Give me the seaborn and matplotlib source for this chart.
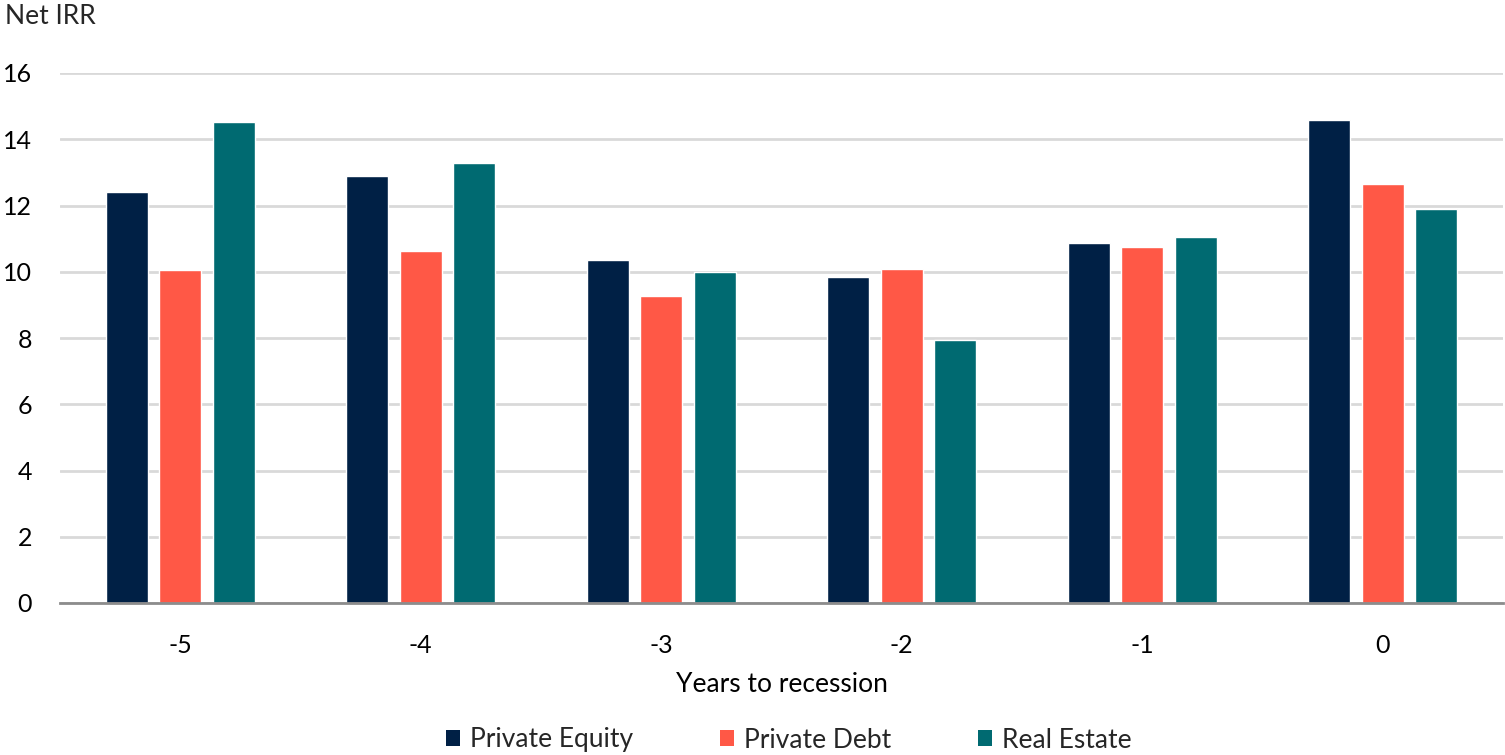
import matplotlib
matplotlib.use("Agg")
import matplotlib.pyplot as plt
import seaborn as sns
import pandas as pd
import numpy as np
from matplotlib.patches import Patch
from matplotlib.ticker import FixedLocator

years = ["-5", "-4", "-3", "-2", "-1", "0"]
series_names = ["Private Equity", "Private Debt", "Real Estate"]
private_equity = [12.41, 12.89, 10.35, 9.84, 10.87, 14.58]
private_debt = [10.05, 10.63, 9.27, 10.08, 10.75, 12.65]
real_estate = [14.52, 13.28, 9.99, 7.94, 11.05, 11.89]
colors = ["#002045", "#FF5846", "#006A71"]
y_ticks = [0, 2, 4, 6, 8, 10, 12, 14, 16]

df = pd.DataFrame({
    "year": years * 3,
    "series": [s for s in series_names for _ in years],
    "value": private_equity + private_debt + real_estate,
})

sns.set_theme(style="white")
plt.rcParams["font.family"] = ["Lato", "DejaVu Sans"]

fig = plt.figure(figsize=(15.05, 7.55), dpi=100)
ax = fig.add_axes([60 / 1505, 152 / 755, 1443 / 1505, 530 / 755])

sns.barplot(data=df, x="year", y="value", hue="series", order=years,
            hue_order=series_names, palette=colors, width=0.667, gap=0.21,
            saturation=1, legend=False, ax=ax)

ax.set_ylim(0, 16)
ax.set_xlim(-0.5, len(years) - 0.5)
ax.set_yticks(y_ticks)
ax.set_yticklabels([str(t) for t in y_ticks])
ax.yaxis.grid(True, color="#D9D9D9", linewidth=2)
ax.set_axisbelow(True)
for s in ["top", "right", "left"]:
    ax.spines[s].set_visible(False)
ax.spines["bottom"].set_color("#8C8C8C")
ax.spines["bottom"].set_linewidth(2)
ax.tick_params(axis="y", length=0, labelsize=18, pad=20, colors="black")
ax.tick_params(axis="x", which="major", length=0, labelsize=18, pad=22, colors="black")
ax.xaxis.set_minor_locator(FixedLocator(np.arange(-0.5, len(years), 1.0)))
ax.tick_params(axis="x", which="minor", length=8, width=2, color="#8C8C8C", direction="out")
ax.set_xlabel("Years to recession", fontsize=19, labelpad=11, color="black")
ax.set_ylabel("")

fig.text(5 / 1505, 1 - 17 / 755, "Net IRR", fontsize=19, ha="left", va="center")

handles = [Patch(facecolor=c, edgecolor="none") for c in colors]
fig.legend(handles, series_names, loc="center", bbox_to_anchor=(0.524, 1 - 740 / 755),
           ncol=3, frameon=False, fontsize=19, handlelength=0.55, handleheight=0.55,
           handletextpad=0.35, columnspacing=3.3)

fig.savefig("out.png", dpi=100)
